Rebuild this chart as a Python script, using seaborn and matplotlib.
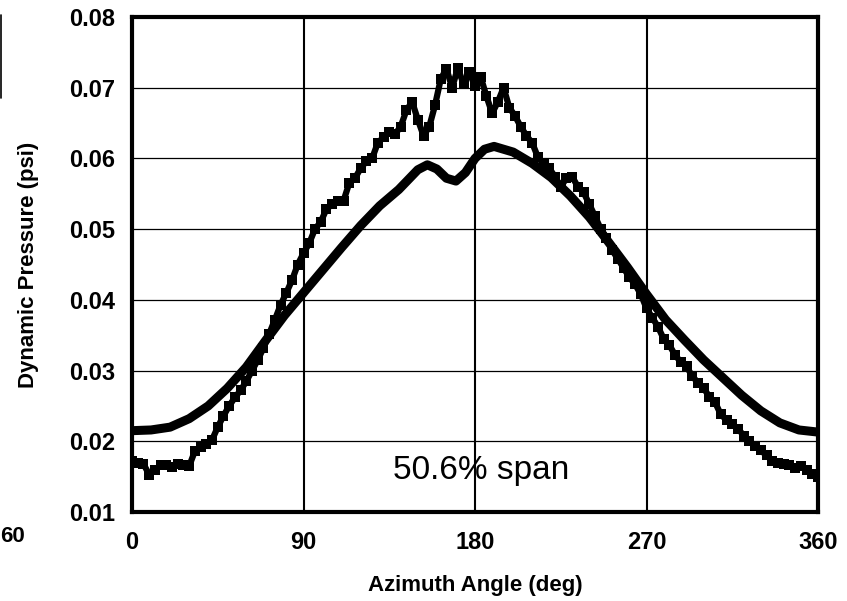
import numpy as np
import pandas as pd
import matplotlib
matplotlib.use("Agg")
import matplotlib.pyplot as plt
from matplotlib.lines import Line2D
from matplotlib.ticker import MultipleLocator, FixedLocator
import seaborn as sns

# ---- data ----
calc_angle = [0, 10, 20, 30, 40, 50, 60, 70, 80, 90, 100, 110, 120, 130, 140,
              145, 150, 155, 160, 165, 170, 175, 180, 185, 190, 200, 210, 220,
              230, 240, 250, 260, 270, 280, 290, 300, 310, 320, 330, 340, 350, 360]
calc_pressure = [0.0215, 0.0216, 0.0220, 0.0232, 0.0250, 0.0275, 0.0305, 0.0342,
                 0.0378, 0.0410, 0.0442, 0.0474, 0.0505, 0.0533, 0.0556, 0.0570,
                 0.0584, 0.0591, 0.0585, 0.0572, 0.0568, 0.0580, 0.0600, 0.0613,
                 0.0617, 0.0609, 0.0593, 0.0573, 0.0547, 0.0517, 0.0482, 0.0446,
                 0.0408, 0.0372, 0.0343, 0.0315, 0.0290, 0.0265, 0.0243, 0.0226,
                 0.0216, 0.0213]

meas_angle = list(range(0, 361, 3))
meas_pressure = [
    0.0172, 0.0170, 0.0168, 0.0153, 0.0160, 0.0166, 0.0167, 0.0164, 0.0168, 0.0167,
    0.0165, 0.0186, 0.0192, 0.0196, 0.0202, 0.0220, 0.0236, 0.0250, 0.0262, 0.0272,
    0.0285, 0.0300, 0.0315, 0.0332, 0.0352, 0.0372, 0.0393, 0.0410, 0.0428, 0.0450,
    0.0466, 0.0480, 0.0500, 0.0510, 0.0528, 0.0535, 0.0540, 0.0540, 0.0565, 0.0572,
    0.0586, 0.0596, 0.0600, 0.0622, 0.0630, 0.0637, 0.0634, 0.0645, 0.0668, 0.0680,
    0.0655, 0.0632, 0.0645, 0.0675, 0.0712, 0.0727, 0.0700, 0.0728, 0.0705, 0.0722,
    0.0702, 0.0715, 0.0688, 0.0664, 0.0680, 0.0700, 0.0672, 0.0660, 0.0645, 0.0632,
    0.0622, 0.0602, 0.0592, 0.0586, 0.0574, 0.0560, 0.0572, 0.0574, 0.0560, 0.0552,
    0.0535, 0.0518, 0.0500, 0.0488, 0.0470, 0.0458, 0.0445, 0.0432, 0.0422, 0.0408,
    0.0388, 0.0375, 0.0362, 0.0345, 0.0336, 0.0322, 0.0312, 0.0306, 0.0292, 0.0283,
    0.0275, 0.0263, 0.0255, 0.0238, 0.0230, 0.0224, 0.0218, 0.0208, 0.0200, 0.0194,
    0.0187, 0.0180, 0.0172, 0.0170, 0.0168, 0.0166, 0.0162, 0.0165, 0.0160, 0.0154,
    0.0150]

x_ticks = [0, 90, 180, 270, 360]
y_ticks = [0.01, 0.02, 0.03, 0.04, 0.05, 0.06, 0.07, 0.08]
y_tick_labels = ["0.01", "0.02", "0.03", "0.04", "0.05", "0.06", "0.07", "0.08"]
x_label = "Azimuth Angle (deg)"
y_label = "Dynamic Pressure (psi)"
annotation = "50.6% span"
edge_fragment = "60"

# ---- plotting ----
sns.set_style("white")
plt.rcParams["font.family"] = ["Liberation Sans", "DejaVu Sans"]
plt.rcParams["text.color"] = "black"
plt.rcParams["axes.labelcolor"] = "black"
plt.rcParams["xtick.color"] = "black"
plt.rcParams["ytick.color"] = "black"

fig = plt.figure(figsize=(8.47, 6.01), dpi=100)
ax = fig.add_axes([132 / 847, 1 - 512 / 601, 686 / 847, 495 / 601])

calc_df = pd.DataFrame({"angle": calc_angle, "pressure": calc_pressure})
meas_df = pd.DataFrame({"angle": meas_angle, "pressure": meas_pressure})

sns.lineplot(data=meas_df, x="angle", y="pressure", ax=ax, color="black",
             linewidth=4.5, marker="s", markersize=6.5, markeredgewidth=0,
             zorder=4)
sns.lineplot(data=calc_df, x="angle", y="pressure", ax=ax, color="black",
             linewidth=6.5, solid_capstyle="round", zorder=5)

ax.set_xlim(0, 360)
ax.set_ylim(0.01, 0.08)
ax.xaxis.set_major_locator(FixedLocator(x_ticks))
ax.xaxis.set_minor_locator(MultipleLocator(10))
ax.yaxis.set_major_locator(FixedLocator(y_ticks))
ax.yaxis.set_minor_locator(MultipleLocator(0.002))
ax.set_xticklabels([str(t) for t in x_ticks])
ax.set_yticklabels(y_tick_labels)

ax.tick_params(axis="both", which="both", direction="in", top=False, right=False,
               width=1.5, colors="black")
ax.tick_params(axis="both", which="major", length=0, labelsize=17)
ax.tick_params(axis="y", which="major", pad=12)
ax.tick_params(axis="x", which="major", pad=14)
ax.tick_params(axis="both", which="minor", length=5)
for lab in ax.get_xticklabels() + ax.get_yticklabels():
    lab.set_fontweight("bold")

ax.grid(False)
for yv in y_ticks[1:-1]:
    ax.axhline(yv, color="black", linewidth=0.9, zorder=1)
for xv in x_ticks[1:-1]:
    ax.axvline(xv, color="black", linewidth=1.5, zorder=1)

for side in ["left", "right", "top", "bottom"]:
    ax.spines[side].set_visible(True)
    ax.spines[side].set_linewidth(3)
    ax.spines[side].set_color("black")

ax.set_xlabel(x_label, fontsize=16, fontweight="bold")
ax.set_ylabel(y_label, fontsize=16, fontweight="bold")
ax.xaxis.set_label_coords(0.5, -0.128)
ax.yaxis.set_label_coords(-0.136, 0.5)

ax.text(183, 0.0159, annotation, fontsize=24, ha="center", va="center",
        color="black", zorder=6)

# fragments of the neighbouring figure at the left edge
fig.text(0.5 / 847, 1 - 537 / 601, edge_fragment, fontsize=16, fontweight="bold",
         ha="left", va="center")
fig.add_artist(Line2D([0.8 / 847, 0.8 / 847], [1 - 15 / 601, 1 - 98 / 601],
                      color="black", linewidth=1.2))

fig.savefig("out.png", dpi=100)
